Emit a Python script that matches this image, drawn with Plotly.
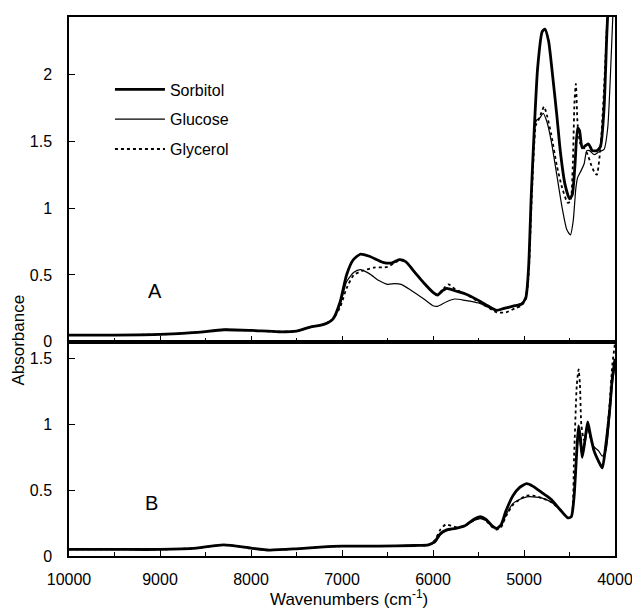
import plotly.graph_objects as go
from plotly.subplots import make_subplots

# ---------------- Data ----------------
# Panel A
a_sorb_wn = [10000, 9500, 9000, 8600, 8300, 8000, 7700, 7500, 7350, 7200, 7100, 7020, 6950, 6880, 6800,
             6700, 6550, 6450, 6370, 6300, 6200, 6100, 6000, 5950, 5900, 5850, 5750, 5650, 5500, 5400,
             5300, 5220, 5100, 5030, 4980, 4950, 4920, 4890, 4850, 4800, 4770, 4730, 4690, 4640, 4600,
             4550, 4500, 4470, 4440, 4410, 4390, 4360, 4320, 4290, 4250, 4200, 4160, 4120, 4090, 4070]
a_sorb = [0.05, 0.05, 0.055, 0.07, 0.09, 0.085, 0.075, 0.08, 0.11, 0.13, 0.17, 0.30, 0.50, 0.61, 0.655,
          0.64, 0.595, 0.59, 0.615, 0.60, 0.52, 0.44, 0.37, 0.35, 0.38, 0.40, 0.38, 0.36, 0.31, 0.27,
          0.235, 0.25, 0.27, 0.28, 0.33, 0.55, 1.10, 1.55, 2.05, 2.32, 2.34, 2.25, 2.02, 1.70, 1.42,
          1.18, 1.07, 1.10, 1.32, 1.60, 1.58, 1.45, 1.47, 1.48, 1.43, 1.43, 1.46, 1.75, 2.30, 2.60]

a_gluc_wn = [10000, 9500, 9000, 8600, 8300, 8000, 7700, 7500, 7350, 7200, 7100, 7020, 6950, 6870, 6800,
             6700, 6600, 6500, 6420, 6350, 6250, 6100, 6000, 5950, 5850, 5760, 5650, 5500, 5400, 5300,
             5200, 5100, 5000, 4960, 4930, 4900, 4880, 4860, 4820, 4790, 4750, 4700, 4640, 4580, 4530,
             4490, 4460, 4430, 4410, 4380, 4340, 4310, 4280, 4230, 4180, 4120, 4080, 4050, 4020]
a_gluc = [0.05, 0.05, 0.055, 0.07, 0.09, 0.085, 0.075, 0.08, 0.11, 0.13, 0.17, 0.28, 0.45, 0.52, 0.54,
          0.51, 0.46, 0.43, 0.435, 0.43, 0.39, 0.32, 0.27, 0.265, 0.30, 0.32, 0.31, 0.29, 0.26, 0.235,
          0.25, 0.27, 0.30, 0.45, 0.90, 1.40, 1.62, 1.66, 1.68, 1.71, 1.65, 1.50, 1.25, 1.00, 0.84,
          0.80, 0.90, 1.15, 1.23, 1.27, 1.33, 1.43, 1.43, 1.40, 1.42, 1.44, 1.60, 2.00, 2.50]

a_glyc_wn = [10000, 9500, 9000, 8600, 8300, 8000, 7700, 7500, 7350, 7200, 7100, 7020, 6950, 6870, 6780,
             6650, 6500, 6400, 6350, 6300, 6200, 6100, 6000, 5950, 5880, 5830, 5750, 5650, 5500, 5400,
             5300, 5200, 5100, 5030, 4980, 4950, 4920, 4890, 4870, 4840, 4800, 4780, 4750, 4700, 4640,
             4580, 4520, 4490, 4465, 4445, 4430, 4410, 4380, 4340, 4300, 4260, 4220, 4200, 4160, 4120, 4080]
a_glyc = [0.05, 0.05, 0.055, 0.07, 0.09, 0.085, 0.075, 0.08, 0.11, 0.13, 0.17, 0.26, 0.40, 0.50, 0.53,
          0.555, 0.56, 0.60, 0.61, 0.60, 0.52, 0.44, 0.37, 0.35, 0.40, 0.43, 0.39, 0.36, 0.30, 0.26,
          0.22, 0.22, 0.25, 0.27, 0.32, 0.50, 1.00, 1.45, 1.62, 1.66, 1.73, 1.76, 1.70, 1.55, 1.32,
          1.15, 1.04, 1.05, 1.30, 1.80, 1.93, 1.62, 1.48, 1.45, 1.40, 1.32, 1.26, 1.25, 1.45, 1.90, 2.50]

# Panel B
b_sorb_wn = [10000, 9500, 9000, 8600, 8300, 8000, 7800, 7500, 7200, 7000, 6600, 6200, 6050, 5980, 5920,
             5850, 5750, 5650, 5550, 5480, 5420, 5350, 5300, 5250, 5200, 5120, 5050, 4970, 4900, 4800,
             4700, 4600, 4520, 4480, 4450, 4420, 4400, 4380, 4360, 4330, 4300, 4270, 4230, 4180, 4140,
             4100, 4060, 4030, 4000]
b_sorb = [0.05, 0.05, 0.05, 0.06, 0.085, 0.06, 0.045, 0.055, 0.07, 0.075, 0.075, 0.08, 0.085, 0.11, 0.17,
          0.20, 0.21, 0.23, 0.28, 0.30, 0.28, 0.23, 0.21, 0.24, 0.34, 0.46, 0.52, 0.55, 0.53, 0.48,
          0.43, 0.35, 0.29, 0.30, 0.45, 0.80, 0.99, 0.90, 0.75, 0.88, 1.02, 0.92, 0.80, 0.72, 0.67,
          0.85, 1.10, 1.35, 1.50]

b_gluc_wn = [10000, 9500, 9000, 8600, 8300, 8000, 7800, 7500, 7200, 7000, 6600, 6200, 6050, 5980, 5920,
             5850, 5750, 5650, 5550, 5480, 5420, 5350, 5300, 5250, 5200, 5120, 5050, 4970, 4900, 4800,
             4700, 4600, 4520, 4480, 4450, 4420, 4400, 4380, 4360, 4330, 4300, 4270, 4230, 4180, 4140,
             4100, 4060, 4030, 4000]
b_gluc = [0.05, 0.05, 0.05, 0.06, 0.085, 0.06, 0.045, 0.055, 0.07, 0.075, 0.075, 0.08, 0.085, 0.10, 0.16,
          0.19, 0.21, 0.23, 0.27, 0.285, 0.27, 0.23, 0.21, 0.23, 0.31, 0.40, 0.43, 0.45, 0.45, 0.44,
          0.41, 0.35, 0.29, 0.30, 0.45, 0.78, 0.92, 0.84, 0.76, 0.86, 0.97, 0.90, 0.83, 0.80, 0.76,
          0.80, 1.05, 1.30, 1.45]

b_glyc_wn = [10000, 9500, 9000, 8600, 8300, 8000, 7800, 7500, 7200, 7000, 6600, 6200, 6050, 5980, 5920,
             5860, 5800, 5750, 5650, 5550, 5480, 5420, 5350, 5300, 5250, 5200, 5120, 5050, 4970, 4900,
             4800, 4700, 4600, 4520, 4480, 4450, 4420, 4400, 4385, 4370, 4340, 4300, 4270, 4230, 4180,
             4140, 4100, 4060, 4030, 4000]
b_glyc = [0.05, 0.05, 0.05, 0.06, 0.085, 0.06, 0.045, 0.055, 0.07, 0.075, 0.075, 0.08, 0.085, 0.12, 0.20,
          0.24, 0.23, 0.22, 0.23, 0.27, 0.29, 0.27, 0.22, 0.20, 0.22, 0.30, 0.39, 0.43, 0.46, 0.46,
          0.44, 0.41, 0.35, 0.29, 0.30, 0.75, 1.30, 1.42, 1.30, 1.00, 0.88, 0.98, 0.90, 0.80, 0.72,
          0.67, 0.85, 1.15, 1.45, 1.62]

series_names = ["Sorbitol", "Glucose", "Glycerol"]
x_ticks = [10000, 9000, 8000, 7000, 6000, 5000, 4000]
x_ticktext = ["10000", "9000", "8000", "7000", "6000", "5000", "4000"]
a_yticks = [0, 0.5, 1, 1.5, 2]
a_yticktext = ["0", "0.5", "1", "1.5", "2"]
b_yticks = [0, 0.5, 1, 1.5]
b_yticktext = ["0", "0.5", "1", "1.5"]

# ---------------- Figure ----------------
FONT = "Liberation Sans, Arial, sans-serif"
styles = [dict(color="black", width=2.8),
          dict(color="black", width=1.2),
          dict(color="black", width=1.8, dash="dot")]

fig = make_subplots(rows=2, cols=1, shared_xaxes=True, vertical_spacing=0,
                    row_heights=[326, 215])

a_sets = [(a_sorb_wn, a_sorb), (a_gluc_wn, a_gluc), (a_glyc_wn, a_glyc)]
b_sets = [(b_sorb_wn, b_sorb), (b_gluc_wn, b_gluc), (b_glyc_wn, b_glyc)]

for i, (name, (xw, yv)) in enumerate(zip(series_names, a_sets)):
    fig.add_trace(go.Scatter(x=xw, y=yv, mode="lines", name=name, line=styles[i],
                             line_shape="spline", line_smoothing=0.6,
                             legendgroup=name, showlegend=True), row=1, col=1)
for i, (name, (xw, yv)) in enumerate(zip(series_names, b_sets)):
    fig.add_trace(go.Scatter(x=xw, y=yv, mode="lines", name=name, line=styles[i],
                             line_shape="spline", line_smoothing=0.6,
                             legendgroup=name, showlegend=False), row=2, col=1)

axis_common = dict(showline=True, linecolor="black", linewidth=1.5, mirror=True,
                   ticks="inside", tickcolor="black", ticklen=6, tickwidth=1.2,
                   showgrid=False, zeroline=False,
                   tickfont=dict(family=FONT, size=16, color="black"))

fig.update_xaxes(range=[10000, 4000], tickvals=x_ticks, ticktext=x_ticktext,
                 minor=dict(dtick=500, ticks="inside", ticklen=4, tickcolor="black", tickwidth=1),
                 **axis_common)
fig.update_xaxes(showticklabels=False, row=1, col=1)
fig.update_xaxes(ticklabelstandoff=8, row=2, col=1)

fig.update_yaxes(range=[0, 2.43], tickvals=a_yticks, ticktext=a_yticktext,
                 ticklabelstandoff=12, row=1, col=1, **axis_common)
fig.update_yaxes(range=[0, 1.63], tickvals=b_yticks, ticktext=b_yticktext,
                 ticklabelstandoff=12, row=2, col=1, **axis_common)

fig.add_annotation(text="Absorbance", xref="paper", yref="paper", x=-0.093, y=0.40,
                   xanchor="center", yanchor="middle",
                   textangle=-90, showarrow=False, font=dict(family=FONT, size=17, color="black"))
fig.add_annotation(text="Wavenumbers (cm<sup>-1</sup>)", xref="paper", yref="paper", x=0.512, y=-0.078,
                   xanchor="center", yanchor="middle", showarrow=False,
                   font=dict(family=FONT, size=17, color="black"))
fig.add_annotation(text="A", x=9060, y=0.38, xref="x", yref="y", showarrow=False,
                   font=dict(family=FONT, size=20, color="black"))
fig.add_annotation(text="B", x=9093, y=0.40, xref="x2", yref="y2", showarrow=False,
                   font=dict(family=FONT, size=20, color="black"))

# the page body has an 8px default margin, so the figure is sized to fit inside it
fig.update_layout(
    width=632, height=601,
    margin=dict(l=61, r=22, t=7, b=53),
    paper_bgcolor="white", plot_bgcolor="white",
    font=dict(family=FONT, size=16, color="black"),
    showlegend=True,
    legend=dict(x=0.075, y=0.897, xanchor="left", yanchor="top",
                bgcolor="rgba(0,0,0,0)", borderwidth=0, tracegroupgap=6,
                itemwidth=50, font=dict(family=FONT, size=16, color="black")),
)

fig.write_html("out.html")
